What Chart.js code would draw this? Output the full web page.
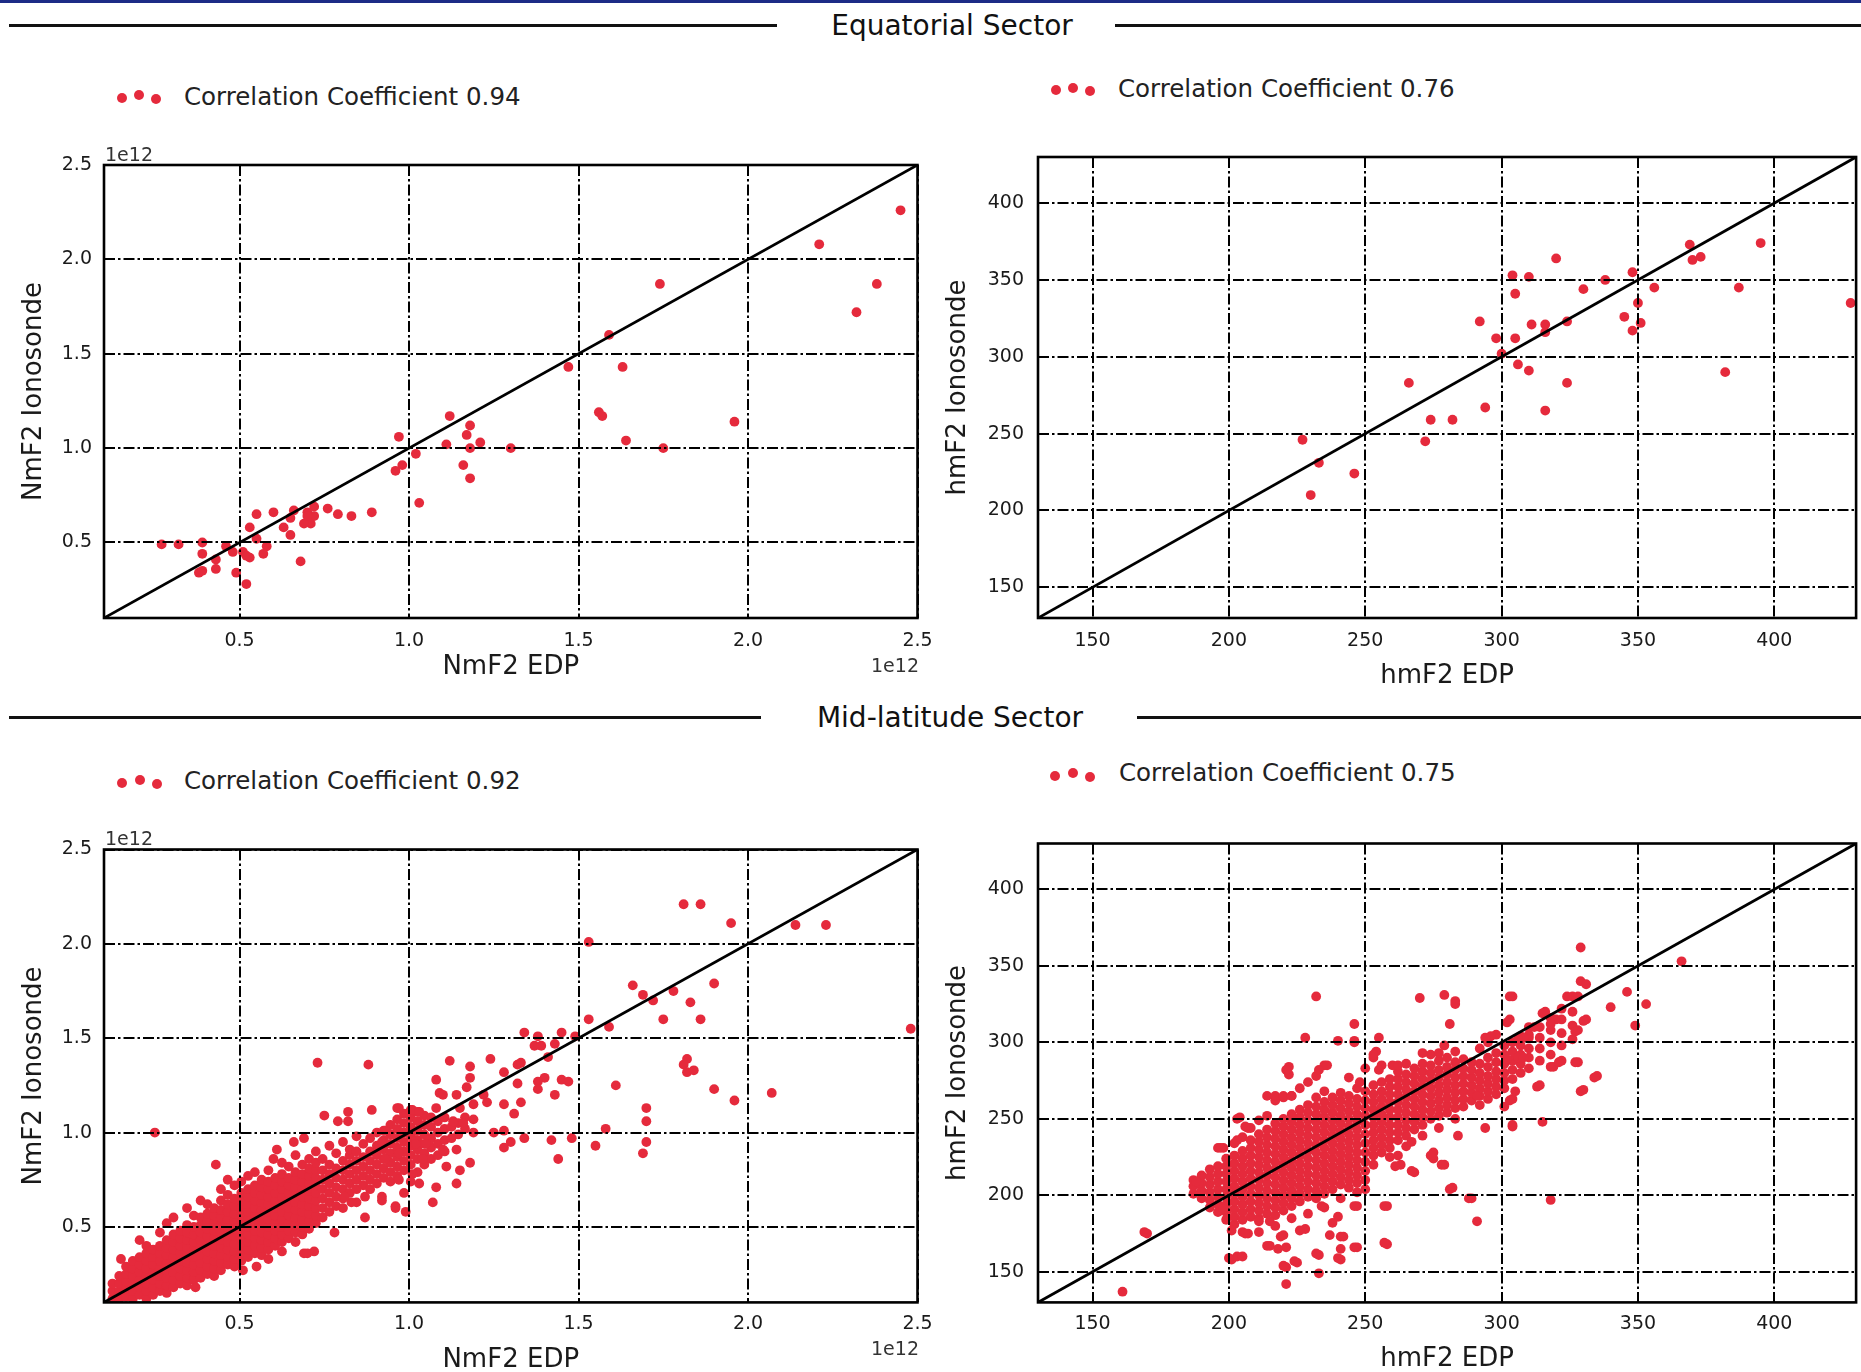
<!DOCTYPE html>
<html><head><meta charset="utf-8">
<script src="https://cdn.jsdelivr.net/npm/chart.js@4.4.1/dist/chart.umd.min.js"></script>
<style>
html,body{margin:0;padding:0;background:#fff;}
body{width:1861px;height:1372px;overflow:hidden;position:relative;font-family:"DejaVu Sans",sans-serif;}
canvas{position:absolute;}
.topbar{position:absolute;left:0;top:0;width:1861px;height:3px;background:#1d2b86;}
.rule{position:absolute;height:2.5px;background:#111;}
.sect{position:absolute;font-size:28px;line-height:28px;color:#111;white-space:nowrap;transform:translate(-50%,-50%);}
.leg{position:absolute;font-size:24.5px;line-height:24.5px;color:#222;white-space:nowrap;transform:translateY(-50%);}
.dot{position:absolute;width:10px;height:10px;border-radius:50%;background:#e52a3c;transform:translate(-50%,-50%);}
.off{position:absolute;font-size:19px;line-height:19px;color:#333;transform:translate(-50%,-50%);}
</style></head>
<body>
<div class="topbar"></div>
<div class="rule" style="left:9px;top:24px;width:768px"></div>
<div class="rule" style="left:1115px;top:24px;width:746px"></div>
<div class="sect" style="left:952px;top:26px">Equatorial Sector</div>
<div class="rule" style="left:9px;top:716px;width:752px"></div>
<div class="rule" style="left:1137px;top:716px;width:724px"></div>
<div class="sect" style="left:950px;top:718px">Mid-latitude Sector</div>

<canvas id="c1" width="950" height="560" style="left:0px;top:130px"></canvas>
<canvas id="c2" width="931" height="570" style="left:930px;top:130px"></canvas>
<canvas id="c3" width="950" height="580" style="left:0px;top:810px"></canvas>
<canvas id="c4" width="931" height="580" style="left:930px;top:810px"></canvas>

<div class="dot" style="left:122px;top:98px"></div><div class="dot" style="left:139px;top:95px"></div><div class="dot" style="left:156px;top:99px"></div>
<div class="leg" style="left:184px;top:97px">Correlation Coefficient 0.94</div>
<div class="dot" style="left:1056px;top:90px"></div><div class="dot" style="left:1073px;top:87.5px"></div><div class="dot" style="left:1090px;top:91px"></div>
<div class="leg" style="left:1118px;top:89px">Correlation Coefficient 0.76</div>
<div class="dot" style="left:122px;top:782.5px"></div><div class="dot" style="left:139.5px;top:780px"></div><div class="dot" style="left:157px;top:783.5px"></div>
<div class="leg" style="left:184px;top:781px">Correlation Coefficient 0.92</div>
<div class="dot" style="left:1055px;top:775.5px"></div><div class="dot" style="left:1072.5px;top:772.5px"></div><div class="dot" style="left:1090px;top:776.5px"></div>
<div class="leg" style="left:1119px;top:773px">Correlation Coefficient 0.75</div>

<div class="off" style="left:129px;top:154px">1e12</div>
<div class="off" style="left:895px;top:665px">1e12</div>
<div class="off" style="left:129px;top:838px">1e12</div>
<div class="off" style="left:895px;top:1348px">1e12</div>

<script>
// ---------- tick labels ----------
const nmTicks = [0.5, 1.0, 1.5, 2.0, 2.5];
const hmTicks = [150, 200, 250, 300, 350, 400];
const nmRange = [0.1, 2.5];
const hmRange = [130, 430];

// ---------- Equatorial NmF2 (EDP, Ionosonde) in 1e12 ----------
const eqNmPairs = [
 [2.45,2.26],[2.21,2.08],[2.38,1.87],[2.32,1.72],[1.74,1.87],[1.59,1.60],[1.47,1.43],[1.63,1.43],
 [1.56,1.19],[1.57,1.17],[1.96,1.14],[1.64,1.04],[1.75,1.00],[1.12,1.17],[1.18,1.12],[1.17,1.07],
 [1.21,1.03],[1.11,1.02],[1.18,1.00],[1.30,1.00],[1.16,0.91],[1.18,0.84],
 [0.97,1.06],[1.02,0.97],[0.98,0.91],[0.96,0.88],[1.03,0.71],[0.89,0.66],[0.83,0.64],[0.79,0.65],
 [0.76,0.68],[0.72,0.69],[0.72,0.64],[0.71,0.60],[0.69,0.60],[0.70,0.66],[0.70,0.64],[0.66,0.67],
 [0.65,0.63],[0.63,0.58],[0.65,0.54],[0.60,0.66],[0.55,0.65],[0.53,0.58],[0.55,0.52],[0.58,0.48],
 [0.57,0.44],[0.68,0.40],[0.27,0.49],[0.32,0.49],[0.39,0.50],[0.39,0.44],[0.43,0.41],[0.43,0.36],
 [0.38,0.34],[0.39,0.35],[0.46,0.48],[0.48,0.45],[0.51,0.45],[0.52,0.43],[0.53,0.42],[0.49,0.34],[0.52,0.28]
];

// ---------- Equatorial hmF2 (EDP, Ionosonde) in km ----------
const eqHmPairs = [
 [428,335],[395,374],[369,373],[370,363],[373,365],[387,345],[382,290],[348,355],[356,345],[350,335],
 [345,326],[351,322],[348,317],[338,350],[330,344],[320,364],[304,353],[310,352],[305,341],[311,321],
 [316,321],[316,316],[324,323],[305,312],[298,312],[292,323],[300,302],[306,295],[310,291],[324,283],
 [316,265],[294,267],[266,283],[274,259],[282,259],[272,245],[227,246],[233,231],[246,224],[230,210]
];

// ---------- Mid-latitude NmF2: dense part as [EDP, [Ionosonde...]] ----------
const midNmColumns = [
 [0.125,[0.12,0.16,0.20]],
 [0.145,[0.12,0.16,0.20,0.24]],
 [0.165,[0.13,0.17,0.21,0.25,0.29]],
 [0.185,[0.12,0.16,0.20,0.24,0.28,0.32]],
 [0.205,[0.14,0.18,0.22,0.26,0.30,0.34,0.43]],
 [0.225,[0.12,0.16,0.20,0.24,0.28,0.32,0.36,0.40]],
 [0.245,[0.14,0.18,0.22,0.26,0.30,0.34,0.38]],
 [0.265,[0.16,0.20,0.24,0.28,0.32,0.36,0.40,0.47]],
 [0.285,[0.15,0.19,0.23,0.27,0.31,0.35,0.39,0.43,0.52]],
 [0.305,[0.18,0.22,0.26,0.30,0.34,0.38,0.42,0.46,0.55]],
 [0.325,[0.20,0.24,0.28,0.32,0.36,0.40,0.44,0.48]],
 [0.345,[0.19,0.23,0.27,0.31,0.35,0.39,0.43,0.47,0.51,0.60]],
 [0.365,[0.22,0.26,0.30,0.34,0.38,0.42,0.46,0.50,0.56]],
 [0.385,[0.23,0.27,0.31,0.35,0.39,0.43,0.47,0.51,0.55,0.64]],
 [0.405,[0.25,0.29,0.33,0.37,0.41,0.45,0.49,0.53,0.57,0.62]],
 [0.425,[0.24,0.28,0.32,0.36,0.40,0.44,0.48,0.52,0.56,0.60]],
 [0.445,[0.27,0.31,0.35,0.39,0.43,0.47,0.51,0.55,0.59,0.64,0.70]],
 [0.465,[0.30,0.34,0.38,0.42,0.46,0.50,0.54,0.58,0.62,0.67,0.75]],
 [0.485,[0.29,0.33,0.37,0.41,0.45,0.49,0.53,0.57,0.61,0.65,0.72]],
 [0.505,[0.32,0.36,0.40,0.44,0.48,0.52,0.56,0.60,0.64,0.68,0.74]],
 [0.525,[0.34,0.38,0.42,0.46,0.50,0.54,0.58,0.62,0.66,0.70,0.77]],
 [0.545,[0.36,0.40,0.44,0.48,0.52,0.56,0.60,0.64,0.68,0.72,0.79]],
 [0.565,[0.35,0.39,0.43,0.47,0.51,0.55,0.59,0.63,0.67,0.71,0.75]],
 [0.585,[0.33,0.38,0.42,0.46,0.50,0.54,0.58,0.62,0.66,0.70,0.74,0.80]],
 [0.605,[0.40,0.44,0.48,0.52,0.56,0.60,0.64,0.68,0.72,0.76]],
 [0.625,[0.37,0.42,0.46,0.50,0.54,0.58,0.62,0.66,0.70,0.74,0.78,0.84]],
 [0.645,[0.44,0.48,0.52,0.56,0.60,0.64,0.68,0.72,0.76,0.82]],
 [0.665,[0.42,0.47,0.51,0.55,0.59,0.63,0.67,0.71,0.75,0.79,0.88]],
 [0.685,[0.46,0.50,0.54,0.58,0.62,0.66,0.70,0.74,0.78,0.83]],
 [0.705,[0.49,0.53,0.57,0.61,0.65,0.69,0.73,0.77,0.81,0.86]],
 [0.725,[0.52,0.56,0.60,0.64,0.68,0.72,0.76,0.80,0.84,0.90]],
 [0.745,[0.55,0.60,0.65,0.70,0.75,0.80,0.86]],
 [0.765,[0.58,0.63,0.68,0.73,0.78,0.83,0.93]],
 [0.785,[0.61,0.66,0.71,0.76,0.81,0.89]],
 [0.805,[0.60,0.65,0.70,0.75,0.80,0.85,0.95]],
 [0.825,[0.68,0.73,0.78,0.83,0.88,0.91]],
 [0.845,[0.63,0.70,0.75,0.80,0.85,0.90,0.98]],
 [0.865,[0.72,0.77,0.82,0.87,0.94]],
 [0.885,[0.70,0.75,0.80,0.85,0.90,0.97]],
 [0.905,[0.73,0.78,0.83,0.88,0.93,1.00]],
 [0.925,[0.76,0.81,0.86,0.91,0.96,1.01]],
 [0.945,[0.74,0.79,0.84,0.89,0.94,0.99,1.04]],
 [0.965,[0.77,0.82,0.87,0.92,0.97,1.02,1.07,1.13]],
 [0.985,[0.68,0.80,0.85,0.90,0.95,1.00,1.05,1.10]],
 [1.005,[0.74,0.83,0.88,0.93,0.98,1.03,1.08,1.12]],
 [1.025,[0.79,0.86,0.91,0.96,1.01,1.06,1.11]],
 [1.045,[0.83,0.89,0.94,0.99,1.04,1.09]],
 [1.065,[0.86,0.92,0.97,1.03,1.08]],
 [1.085,[0.88,0.94,1.00,1.06]],
 [1.105,[0.90,0.96,1.02,1.08]],
 [1.125,[0.97,1.03]],
 [1.145,[0.99,1.05]],
 [1.165,[1.02,1.08]]
];
// ---------- Mid-latitude NmF2: scattered points ----------
const midNmPairs = [
 [0.15,0.33],[0.25,1.00],[0.43,0.83],[0.37,0.18],[0.51,0.27],[0.55,0.29],[0.69,0.36],[0.72,0.37],
 [0.70,0.36],[0.78,0.47],[0.87,0.55],[0.99,0.58],[0.96,0.61],[0.92,0.66],[0.87,0.66],[0.83,0.63],
 [0.81,0.66],[0.75,1.09],[0.79,1.06],[0.82,1.11],[0.82,1.06],[0.89,1.12],[0.73,1.37],[0.88,1.36],
 [0.66,0.95],[0.61,0.91],[0.60,0.86],[0.69,0.97],
 [1.81,2.21],[1.86,2.21],[1.95,2.11],[2.14,2.10],[2.23,2.10],[1.53,2.01],[1.66,1.78],[1.69,1.73],
 [1.72,1.70],[1.78,1.75],[1.90,1.79],[1.83,1.69],[1.75,1.60],[1.86,1.60],[1.53,1.60],[1.59,1.56],
 [2.48,1.55],[1.82,1.39],[1.81,1.36],[1.82,1.32],[1.84,1.33],[1.90,1.23],[1.96,1.17],[2.07,1.21],
 [1.61,1.25],[1.70,1.13],[1.70,1.06],[1.70,0.95],[1.69,0.89],[1.58,1.02],[1.55,0.93],[1.48,0.97],
 [1.44,0.86],[1.42,0.96],[1.34,0.97],[1.30,0.95],[1.28,0.92],[1.28,1.01],[1.25,1.00],[1.19,1.00],
 [1.34,1.53],[1.38,1.51],[1.45,1.53],[1.49,1.51],[1.37,1.46],[1.39,1.46],[1.43,1.47],[1.41,1.40],
 [1.24,1.39],[1.12,1.38],[1.18,1.35],[1.32,1.36],[1.33,1.37],[1.28,1.32],[1.18,1.29],[1.08,1.28],
 [1.40,1.29],[1.38,1.27],[1.45,1.28],[1.47,1.27],[1.32,1.26],[1.38,1.23],[1.43,1.20],[1.17,1.24],
 [1.09,1.21],[1.10,1.20],[1.14,1.20],[1.22,1.20],[1.23,1.16],[1.19,1.15],[1.28,1.15],[1.33,1.16],
 [1.31,1.10],[1.08,1.13],[1.15,1.13],[0.97,1.13],[1.01,1.12],[1.03,1.11],[1.13,1.06],[1.16,1.05],
 [1.19,1.07],[1.14,0.91],[1.18,0.84],[1.14,0.73],[1.08,0.71],[1.07,0.63],[1.11,0.82],[1.15,0.80],
 [1.10,0.91],[1.04,0.86],[1.02,0.96],[1.06,0.96],[1.03,0.73],[1.01,0.78],[0.93,1.01],[0.92,0.95],
 [0.96,0.60],[0.92,0.64],[0.97,0.75],[0.93,0.86],[0.97,0.89],[1.02,0.94],[1.05,0.94],[0.91,0.91]
];

// ---------- Mid-latitude hmF2: dense part as [EDP, [Ionosonde...]] ----------
const midHmColumns = [
 [187,[201,206,210]],
 [190,[198,203,208,213]],
 [193,[192,197,202,207,212,217]],
 [196,[189,194,199,204,209,214,219,231]],
 [199,[184,189,194,199,204,209,214,219,224]],
 [202,[181,186,191,196,201,206,211,216,221,226,234]],
 [205,[176,184,189,194,199,204,209,214,219,224,229,238]],
 [208,[186,191,196,201,206,211,216,221,226,231,236,244]],
 [211,[176,185,190,195,200,205,210,215,220,225,230,235,240,249]],
 [214,[188,193,198,203,208,213,218,223,228,233,238,243,252]],
 [217,[180,187,192,197,202,207,212,217,222,227,232,237,242,247,262]],
 [220,[190,195,200,205,210,215,220,225,230,235,240,245,250,264]],
 [223,[185,193,198,203,208,213,218,223,228,233,238,243,248,253,265]],
 [226,[196,201,206,211,216,221,226,231,236,241,246,251,256,270]],
 [229,[188,199,204,209,214,219,224,229,234,239,244,249,254,259,274]],
 [232,[198,203,208,213,218,223,228,233,238,243,248,253,258,264,278]],
 [235,[192,201,206,211,216,221,226,231,236,241,246,251,256,261,268]],
 [238,[182,204,209,214,219,224,229,234,239,244,249,254,259,264]],
 [241,[198,207,212,217,222,227,232,237,242,247,252,257,262,267]],
 [244,[205,210,215,220,225,230,235,240,245,250,255,260,265,277]],
 [247,[202,208,213,218,223,228,233,238,243,248,253,258,263,270]],
 [250,[204,210,216,222,228,234,240,246,252,257,262,268,283]],
 [253,[220,226,231,236,241,246,251,256,261,266,272,290]],
 [256,[228,233,238,243,248,253,258,263,268,274,285]],
 [259,[225,231,236,241,246,251,256,261,266,271,276]],
 [262,[236,241,246,251,256,261,266,271,276,281]],
 [265,[232,239,244,249,254,259,264,269,274,279,286]],
 [268,[243,248,253,258,263,268,273,278,283]],
 [271,[246,251,256,261,266,271,276,281,286]],
 [274,[250,255,260,265,270,275,280,285,292]],
 [277,[244,252,257,262,267,272,277,282,288]],
 [280,[254,259,264,269,274,279,284,290]],
 [283,[250,257,262,267,272,277,282,287,294]],
 [286,[258,263,268,273,278,283,289]],
 [289,[262,267,272,277,282,287]],
 [292,[259,265,270,275,280,286,296]],
 [295,[263,268,273,278,284,290,300]],
 [298,[266,271,276,281,287,293,305]],
 [301,[258,270,275,280,286,292,298]],
 [304,[263,276,282,288,294,300]],
 [307,[280,286,292,298,304]],
 [310,[283,290,296,303,310]],
 [314,[288,296,303,310]],
 [318,[292,300,308,316]],
 [322,[298,306,315,322]],
 [326,[302,311,320,330]]
];
// ---------- Mid-latitude hmF2: scattered points ----------
const midHmPairs = [
 [161,137],[169,176],[170,175],[366,353],[329,362],[329,340],[331,338],[353,325],[346,333],[340,323],
 [349,311],[335,278],[330,269],[328,308],[331,315],[328,287],[322,288],[319,284],[314,272],[315,248],
 [318,197],[304,245],[291,183],[289,198],[282,205],[279,220],[275,228],[275,224],[268,215],[263,220],
 [258,193],[258,168],[247,193],[247,166],[241,158],[241,173],[242,173],[237,174],[234,193],[233,149],
 [233,161],[228,178],[225,156],[221,142],[221,153],[221,166],[219,173],[215,167],[215,183],[207,175],
 [201,158],[203,160],[205,160],[201,177],[198,191],[198,231],[204,251],[207,244],[189,208],[228,303],
 [232,330],[240,301],[246,301],[246,312],[255,303],[254,294],[270,329],[279,331],[283,327],[283,325],
 [281,312],[304,330],[303,315],[310,305],[316,320],[319,315],[324,330],[222,284],[222,279],[235,285],
 [214,265],[217,265],[220,265],[223,265],[221,282],[233,282],[236,285],[246,300],[253,292],[248,274],
 [255,282],[260,285],[262,285],[271,293],[277,293],[279,298],[267,235],[274,226],[278,220],[281,204],
 [288,198],[261,219],[267,216],[262,226],[271,239],[284,239],[294,244],[304,246],[291,265],[303,262],
 [305,268],[313,271],[329,268],[327,287],[318,284],[321,287],[334,277],[246,193],[257,193],[257,169],
 [240,186],[246,166],[241,165],[240,159],[232,162],[226,177],[220,174],[224,157],[220,154],[214,167],
 [218,165],[206,175],[200,159],[211,183],[197,231],[203,250],[203,236],[206,245],[188,209],
 [328,330],[315,319],[320,315],[318,312],[303,330],[302,313],[312,310],[308,303],[306,302],[296,304],
 [294,303],[302,289],[306,290],[308,290],[327,307],[330,314]
];

// ---------- helpers that build Chart.js tables ----------
const RED = '#e52a3c';
function fromPairs(p){ return p.map(([x,y]) => ({x, y})); }
function fromColumns(cols){ const out=[]; cols.forEach(([x, ys]) => ys.forEach(y => out.push({x, y}))); return out; }

const framePlugin = {
  id: 'frame',
  afterDraw(chart){
    const {ctx, chartArea:a} = chart;
    ctx.save(); ctx.strokeStyle = '#000'; ctx.lineWidth = 2.6;
    ctx.strokeRect(a.left, a.top, a.right - a.left, a.bottom - a.top);
    ctx.restore();
  }
};

function panel(c){
  const tickFont = {family:'DejaVu Sans', size:19};
  const titleFont = {family:'DejaVu Sans', size:26};
  const axisCommon = (range, ticks, fmt) => ({
    type:'linear', min:range[0], max:range[1],
    afterBuildTicks: s => { s.ticks = ticks.map(v => ({value:v})); },
    ticks:{callback: fmt, font: tickFont, color:'#1a1a1a', maxRotation:0, autoSkip:false},
    grid:{color:'#000', lineWidth:2, drawTicks:false, z:1},
    border:{display:false, dash:[11,3,2.5,3]}
  });
  const xs = axisCommon(c.range, c.ticks, c.fmt);
  xs.afterFit = s => { s.height = c.xh; };
  xs.ticks.padding = c.xtp;
  xs.title = {display:true, text:c.xTitle, font:titleFont, color:'#1a1a1a', padding:{top:0, bottom:c.xTitlePad}};
  const ys = axisCommon(c.range, c.ticks, c.fmt);
  ys.afterFit = s => { s.width = c.yw; };
  ys.ticks.padding = c.ytp;
  ys.title = {display:true, text:c.yTitle, font:titleFont, color:'#1a1a1a', padding:{top:c.yTitlePad, bottom:0}};
  new Chart(document.getElementById(c.id), {
    type:'scatter',
    data:{datasets:[
      {data:[{x:c.range[0], y:c.range[0]}, {x:c.range[1], y:c.range[1]}], showLine:true,
       borderColor:'#000', borderWidth:2.8, pointRadius:0, order:0},
      {data:c.points, backgroundColor:RED, borderColor:RED, borderWidth:0,
       pointRadius:4.9, pointHoverRadius:4.9, order:1}
    ]},
    options:{
      responsive:false, animation:false, events:[],
      layout:{padding:c.pad},
      plugins:{legend:{display:false}, tooltip:{enabled:false}},
      scales:{x:xs, y:ys}
    },
    plugins:[framePlugin]
  });
}

const nmFmt = v => v.toFixed(1);
const hmFmt = v => String(v);

panel({id:'c1', points: fromPairs(eqNmPairs), range:nmRange, ticks:nmTicks, fmt:nmFmt,
  xTitle:'NmF2 EDP', yTitle:'NmF2 Ionosonde',
  pad:{left:0, top:35, right:32.5, bottom:0}, yw:104, xh:72, ytp:12, xtp:12, xTitlePad:7, yTitlePad:19});
panel({id:'c2', points: fromPairs(eqHmPairs), range:hmRange, ticks:hmTicks, fmt:hmFmt,
  xTitle:'hmF2 EDP', yTitle:'hmF2 Ionosonde',
  pad:{left:0, top:27, right:2, bottom:0}, yw:108, xh:82, ytp:14, xtp:12, xTitlePad:8, yTitlePad:13});
panel({id:'c3', points: fromColumns(midNmColumns).concat(fromPairs(midNmPairs)), range:nmRange, ticks:nmTicks, fmt:nmFmt,
  xTitle:'NmF2 EDP', yTitle:'NmF2 Ionosonde',
  pad:{left:0, top:39.5, right:32.5, bottom:0}, yw:104, xh:87.6, ytp:12, xtp:10, xTitlePad:14, yTitlePad:19});
panel({id:'c4', points: fromColumns(midHmColumns).concat(fromPairs(midHmPairs)), range:hmRange, ticks:hmTicks, fmt:hmFmt,
  xTitle:'hmF2 EDP', yTitle:'hmF2 Ionosonde',
  pad:{left:0, top:33.5, right:2, bottom:0}, yw:108, xh:87.6, ytp:14, xtp:10, xTitlePad:15, yTitlePad:13});
</script>
</body></html>
